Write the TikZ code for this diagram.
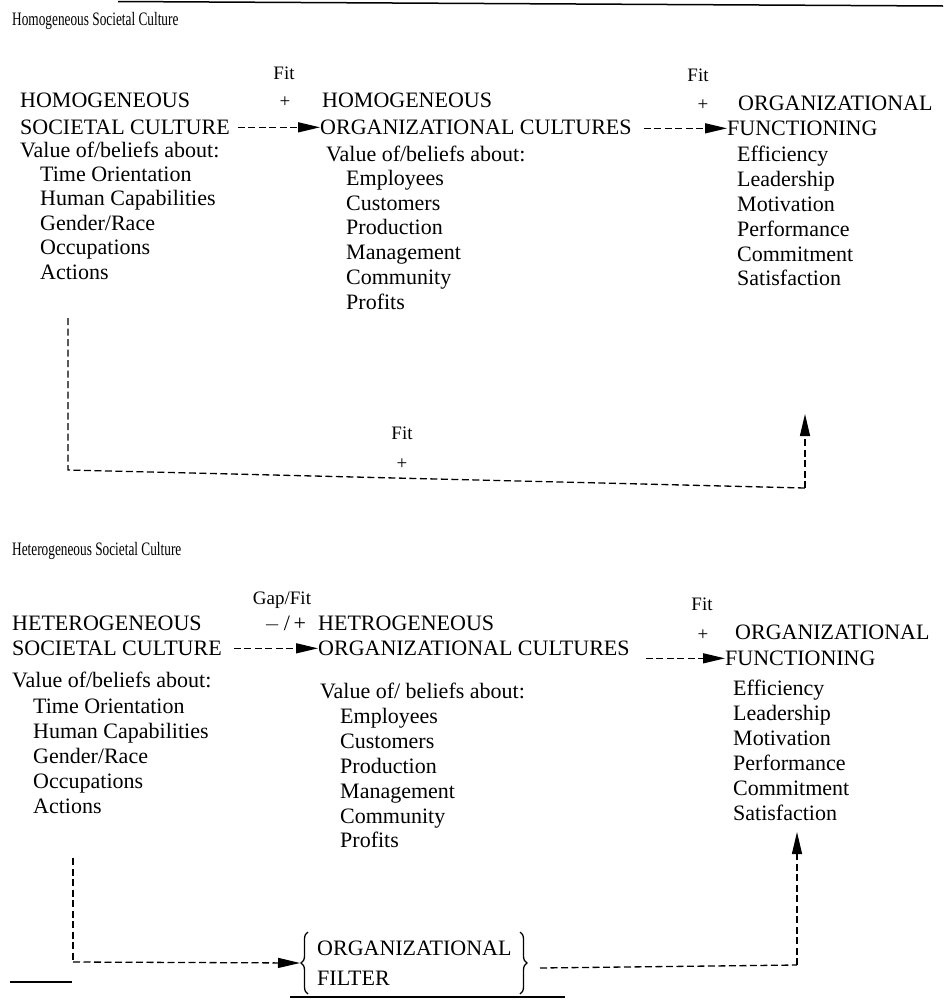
\documentclass[tikz,border=0pt]{standalone}
\usepackage{fontspec}
\setmainfont{Liberation Serif}
\usetikzlibrary{arrows.meta,decorations.pathreplacing}
\begin{document}
\begin{tikzpicture}[x=1pt,y=-1pt,
  txt/.style={anchor=base west,inner sep=0pt,font=\fontsize{22}{24}\selectfont},
  fitlbl/.style={anchor=base,inner sep=0pt,font=\fontsize{19}{20}\selectfont},
  hdr/.style={anchor=base west,inner sep=0pt,font=\fontsize{19}{20}\selectfont},
  dsh/.style={line width=1.3pt,dash pattern=on 7pt off 3.5pt},
  arr/.style={dsh,-{Triangle[length=22pt,width=10pt]}},
  rulex/.style={line width=1.5pt}]
\useasboundingbox (0,0) rectangle (945,1002);
% ---------- top section ----------
\draw[rulex] (118,1.5) -- (943,6);
\node[hdr] (hdrA) at (12,25) {\scalebox{0.7}[1]{Homogeneous Societal Culture}};
\node[fitlbl] (fitA1) at (284,79) {Fit};
\node[fitlbl] (plusA1) at (285,107) {+};
\node[txt] (homA) at (20,107.5) {HOMOGENEOUS};
\node[txt] (socA) at (20,134.5) {SOCIETAL CULTURE};
\node[txt] (homOA) at (322,107.5) {HOMOGENEOUS};
\node[txt] (orgCA) at (320,134.5) {ORGANIZATIONAL CULTURES};
\node[fitlbl] (fitA2) at (698,81) {Fit};
\node[fitlbl] (plusA2) at (703,110) {+};
\node[txt] (orgFA) at (738,110.5) {ORGANIZATIONAL};
\node[txt] (funcA) at (727,135.5) {FUNCTIONING};
\draw[arr] ([xshift=8pt]socA.east) -- (orgCA.west);
\draw[arr] ([xshift=12pt]orgCA.east |- funcA.west) -- (funcA.west);
\node[txt] (valLA) at (20,157) {Value of/beliefs about:};
\foreach \t [count=\i] in {Time Orientation,Human Capabilities,Gender/Race,Occupations,Actions}
  \node[txt] (lA\i) at (40,156.5+24.5*\i) {\t};
\node[txt] (valMA) at (326,161) {Value of/beliefs about:};
\foreach \t [count=\i] in {Employees,Customers,Production,Management,Community,Profits}
  \node[txt] (mA\i) at (346,160.5+24.8*\i) {\t};
\foreach \t [count=\i] in {Efficiency,Leadership,Motivation,Performance,Commitment,Satisfaction}
  \node[txt] (rA\i) at (737,137+24.8*\i) {\t};
\coordinate (a1) at (68,318);
\coordinate (a2) at (68,470);
\coordinate (a3) at (805,488);
\coordinate (a4) at (805,414);
\draw[dsh] (a1) -- (a2) -- (a3);
\draw[arr] (a3) -- (a4);
\node[fitlbl] (fitA3) at (402,439) {Fit};
\node[fitlbl] (plusA3) at (402,469) {+};
% ---------- bottom section ----------
\node[hdr] (hdrB) at (12,555) {\scalebox{0.7}[1]{Heterogeneous Societal Culture}};
\node[fitlbl] (fitB1) at (282,604) {Gap/Fit};
\node[fitlbl,font=\fontsize{22}{24}\selectfont] (plusB1) at (285,630) {$-$\,/\,+};
\node[txt] (hetB) at (12,630.5) {HETEROGENEOUS};
\node[txt] (socB) at (12,655.5) {SOCIETAL CULTURE};
\node[txt] (hetOB) at (318,630.5) {HETROGENEOUS};
\node[txt] (orgCB) at (318,655.5) {ORGANIZATIONAL CULTURES};
\node[fitlbl] (fitB2) at (702,610) {Fit};
\node[fitlbl] (plusB2) at (703,640) {+};
\node[txt] (orgFB) at (735,639.5) {ORGANIZATIONAL};
\node[txt] (funcB) at (725,665.5) {FUNCTIONING};
\draw[arr] ([xshift=12pt]socB.east) -- (orgCB.west);
\draw[arr] ([xshift=16pt]orgCB.east |- funcB.west) -- (funcB.west);
\node[txt] (valLB) at (12,687) {Value of/beliefs about:};
\foreach \t [count=\i] in {Time Orientation,Human Capabilities,Gender/Race,Occupations,Actions}
  \node[txt] (lB\i) at (33,689+24.8*\i) {\t};
\node[txt] (valMB) at (320,698) {Value of/ beliefs about:};
\foreach \t [count=\i] in {Employees,Customers,Production,Management,Community,Profits}
  \node[txt] (mB\i) at (340,699+24.8*\i) {\t};
\foreach \t [count=\i] in {Efficiency,Leadership,Motivation,Performance,Commitment,Satisfaction}
  \node[txt] (rB\i) at (733,670+25*\i) {\t};
% filter
\node[txt] (filt1) at (317,955.5) {ORGANIZATIONAL};
\node[txt] (filt2) at (317,985.5) {FILTER};
\draw[line width=1.3pt,decorate,decoration={brace,amplitude=7pt}] (308,994) -- (308,932);
\draw[line width=1.3pt,decorate,decoration={brace,amplitude=7pt}] (520,932) -- (520,994);
\coordinate (fl) at (300,963);
\coordinate (fr) at (540,968);
\coordinate (b1) at (73,858);
\coordinate (b2) at (73,962);
\coordinate (b3) at (797,965);
\coordinate (b4) at (797,832);
\draw[dsh] (b1) -- (b2);
\draw[arr] (b2) -- (fl);
\draw[dsh] (fr) -- (b3);
\draw[arr] (b3) -- (b4);
\draw[rulex] (10,982) -- (72,982);
\draw[rulex] (290,997) -- (565,997);
\end{tikzpicture}
\end{document}
